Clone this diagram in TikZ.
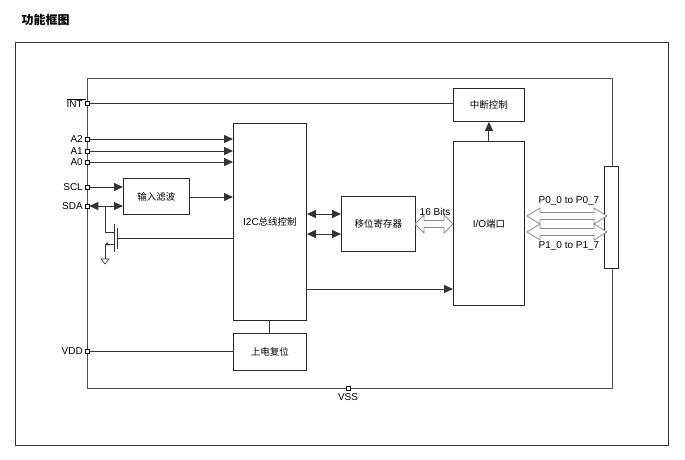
\documentclass[tikz,border=0pt]{standalone}
\usepackage{fontspec}
\setmainfont{Liberation Sans}
\newfontfamily\cjk{Noto Sans CJK SC}
\usetikzlibrary{arrows.meta}
\begin{document}
\begin{tikzpicture}[x=1pt,y=-1pt,
  box/.style={draw=black!85,line width=0.9pt,fill=white,inner sep=0pt,anchor=north west},
  ln/.style={draw=black!80,line width=1pt},
  ar/.style={ln,-{Triangle[length=9pt,width=8pt]}},
  dar/.style={ln,{Triangle[length=9pt,width=8pt]}-{Triangle[length=9pt,width=8pt]}},
  pin/.style={draw=black,fill=white,minimum size=4pt,inner sep=0pt,line width=0.6pt},
  lab/.style={font=\fontsize{10}{11}\selectfont,inner sep=1pt},
  clab/.style={font=\cjk\fontsize{9.5}{11}\selectfont,inner sep=1pt},
  hol/.style={draw=black!45,fill=white,line width=0.8pt}]
\useasboundingbox (0,0) rectangle (685,459);
\node[anchor=west,font=\cjk\bfseries\fontsize{12}{13}\selectfont] (title) at (18,20) {功能框图};
\draw[black!80,line width=0.8pt] (15,42) rectangle (668,445);
\draw[black!70,line width=1pt] (87,78) rectangle (612,388);
% boxes
\node[box,minimum width=71pt,minimum height=33pt] (int) at (453,88) {};
\node[clab] at (int.center) {中断控制};
\node[box,minimum width=73pt,minimum height=197pt] (i2c) at (233,123) {};
\node[lab] at (i2c.center) {I2C{\cjk\fontsize{9.5}{11}\selectfont 总线控制}};
\node[box,minimum width=66pt,minimum height=36pt] (flt) at (123,178) {};
\node[clab] at (flt.center) {输入滤波};
\node[box,minimum width=74pt,minimum height=55pt] (sr) at (341,196) {};
\node[clab] at (sr.center) {移位寄存器};
\node[box,minimum width=71pt,minimum height=164pt] (io) at (453,141) {};
\node[lab] at (io.center) {I/O{\cjk\fontsize{9.5}{11}\selectfont 端口}};
\node[box,minimum width=73pt,minimum height=37pt] (por) at (233,333) {};
\node[clab] at (por.center) {上电复位};
\node[box,minimum width=14pt,minimum height=102pt] (bar) at (604,166) {};
% pins
\foreach \n/\y/\t in {pint/103/{\makebox[0pt][l]{\rule[7.6pt]{19pt}{0.5pt}}INT},pa2/139/A2,pa1/151/A1,pa0/162/A0,pscl/187/SCL,psda/206/SDA,pvdd/351/VDD}
  {\node[pin] (\n) at (87,\y) {}; \node[lab,anchor=east] at (84,\y) {\t};}
\node[pin] (pvss) at (348,388) {};
\node[lab,anchor=north] at (348,392) {VSS};
% connections
\draw[ln] (pint) -- (int.west |- pint);
\draw[ar] (io.north) -- (int.south);
\foreach \p in {pa2,pa1,pa0} \draw[ar] (\p) -- (i2c.west |- \p);
\draw[ar] (pscl) -- (flt.west |- pscl);
\coordinate (j) at (105,206);
\draw[ar] (j) -- (psda);
\draw[ar] (j) -- (flt.west |- j);
\draw[ar] (flt.east |- 0,197) -- (i2c.west |- 0,197);
\draw[dar] (i2c.east |- 0,214) -- (sr.west |- 0,214);
\draw[dar] (i2c.east |- 0,234) -- (sr.west |- 0,234);
\draw[ar] (i2c.east |- 0,289) -- (io.west |- 0,289);
\draw[ln] (i2c.south) -- (por.north);
\draw[ln] (pvdd) -- (por.west |- pvdd);
% transistor
\coordinate (g) at (117,238);
\draw[ln] (j) -- (105,232) -- (114,232);
\draw[ln] (114,224) -- (114,252);
\draw[ln] (117,228) -- (117,249);
\draw[ln] (i2c.west |- g) -- (g);
\draw[ln,-{Stealth[length=3.5pt,width=3.5pt]}] (114,244) -- (105,244);
\draw[ln] (105,244) -- (105,259);
\coordinate (gnd) at (105,259);
\draw[black!80,line width=0.6pt] (101,259) -- (109,259) -- (105,264) -- cycle;
% hollow arrows
\def\harrow#1#2#3#4#5{\draw[hol] (#1,#3) -- (#1+#5,#3-#4) -- (#1+#5,#3-3.5) -- (#2-#5,#3-3.5) -- (#2-#5,#3-#4) -- (#2,#3) -- (#2-#5,#3+#4) -- (#2-#5,#3+3.5) -- (#1+#5,#3+3.5) -- (#1+#5,#3+#4) -- cycle;}
\harrow{415}{453}{224}{9}{9}
\node[lab,anchor=south] at (435,217) {16 Bits};
\harrow{527}{607}{216}{8}{13}
\harrow{527}{607}{232}{8}{13}
\node[lab] at (569,201) {P0\_0 to P0\_7};
\node[lab] at (569,246) {P1\_0 to P1\_7};
\end{tikzpicture}
\end{document}
